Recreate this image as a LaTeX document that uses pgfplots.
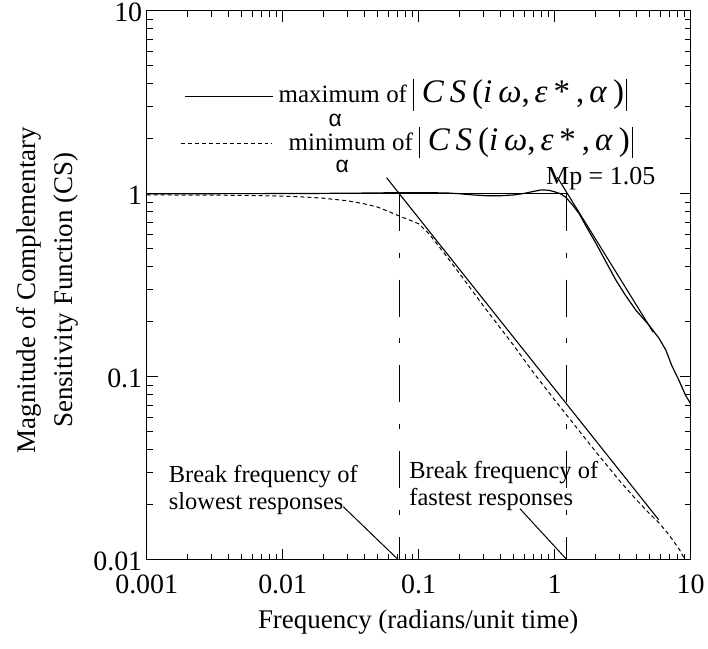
\documentclass[border=0pt]{standalone}
\usepackage{fontspec}
\setmainfont{Liberation Serif}
\newfontfamily\alphafont{Liberation Sans}
\newfontfamily\formfont{Liberation Serif}[LetterSpace=18]
\usepackage{pgfplots}
\usepackage{pgfplotstable}
\pgfplotsset{compat=1.18}

% max over alpha of |CS|
\pgfplotstableread{
x y
0.001 1.0
0.01 1.002
0.03 1.006
0.06 1.012
0.1 1.014
0.16 1.01
0.2 1.0
0.25 0.985
0.32 0.975
0.4 0.975
0.5 0.985
0.6 1.005
0.7 1.03
0.8 1.05
0.9 1.045
1.0 1.025
1.1 1.0
1.2 0.96
1.35 0.87
1.51 0.78
1.75 0.64
2.01 0.536
2.4 0.42
2.82 0.337
3.3 0.28
3.95 0.231
4.92 0.192
5.82 0.163
6.56 0.14
7.26 0.115
8.17 0.096
9.18 0.079
10 0.071
}\maxcs

% min over alpha of |CS|
\pgfplotstableread{
x y
0.001 0.985
0.003 0.983
0.006 0.978
0.01 0.97
0.015 0.958
0.02 0.945
0.03 0.915
0.04 0.88
0.05 0.845
0.06 0.80
0.072 0.755
0.085 0.72
0.1 0.685
0.12 0.60
0.15 0.485
0.2 0.366
0.3 0.243
0.5 0.148
0.7 0.105
1.0 0.0746
1.5 0.051
2.0 0.039
3.0 0.027
4.0 0.0212
5.0 0.0178
5.8 0.016
6.7 0.0141
7.5 0.0126
8.3 0.0113
9.0 0.0101
}\mincs

\newcommand\fs[1]{\fontsize{#1bp}{1.2\dimexpr #1bp\relax}\selectfont}
\newcommand\vbar{\rule[-8bp]{0.9bp}{32bp}}
\newcommand\csabs{{\formfont\fs{33}\vbar\hspace{8bp}\textit{CS}(\textit{iω},\hspace{5bp}\textit{ε}*,\hspace{5bp}\textit{α})\hspace{2bp}\vbar}}

\begin{document}
\begin{tikzpicture}
\begin{axis}[
  name=ax,
  scale only axis, width=545bp, height=550bp,
  xmode=log, ymode=log,
  xmin=0.001, xmax=10, ymin=0.01, ymax=10,
  log ticks with fixed point,
  /pgf/number format/assume math mode=true,
  xtick={0.001,0.01,0.1,1,10}, ytick={0.01,0.1,1,10},
  minor xtick={0.002,0.003,0.004,0.005,0.006,0.007,0.008,0.009,
    0.02,0.03,0.04,0.05,0.06,0.07,0.08,0.09,
    0.2,0.3,0.4,0.5,0.6,0.7,0.8,0.9,
    2,3,4,5,6,7,8,9},
  minor ytick={0.02,0.03,0.04,0.05,0.06,0.07,0.08,0.09,
    0.2,0.3,0.4,0.5,0.6,0.7,0.8,0.9,
    2,3,4,5,6,7,8,9},
  xtick pos=both, ytick pos=both, tick align=inside,
  major tick length=11bp, minor tick length=6bp,
  tick style={black, line width=0.9bp},
  axis line style={line width=1.4bp},
  tick label style={font=\fs{28}},
  xticklabel style={yshift=-12bp},
  yticklabel style={yshift=-2bp, xshift=-1bp},
  label style={font=\fontsize{27bp}{37bp}\selectfont, align=center},
  xlabel={Frequency (radians/unit time)},
  ylabel={Magnitude of Complementary\\Sensitivity Function (CS)},
  xlabel style={at={(axis description cs:0.499,-0.113)}, anchor=center},
  ylabel style={at={(axis description cs:-0.1826,0.491)}, anchor=center},
]
% curves
\addplot[black, line width=1.2bp] table[x=x, y=y] {\maxcs};
\addplot[black, line width=1.0bp, dash pattern=on 4bp off 3bp] table[x=x, y=y] {\mincs};
% asymptotes
\addplot[black, line width=1.1bp] coordinates {(0.001,1) (1.23,1)};
\addplot[black, line width=1.1bp] coordinates {(0.05803,1.224) (5.82,0.01652)};
\addplot[black, line width=1.1bp] coordinates {(1.044,1.232) (5.3,0.175)};
% break frequencies
\addplot[black, line width=1.1bp, dash pattern=on 37bp off 22bp on 5bp off 22bp] coordinates {(0.072,1) (0.072,0.01)};
\addplot[black, line width=1.1bp, dash pattern=on 37bp off 22bp on 5bp off 22bp] coordinates {(1.23,1) (1.23,0.01)};
\end{axis}

% annotations, in image pixel coordinates (origin top-left)
\begin{scope}[xshift=-147bp, yshift=560bp, x=1bp, y=-1bp]
\path (0,0) rectangle (708,649);
% legend
\draw[line width=1.2bp] (185,96) -- (274,96);
\node[anchor=base west, inner sep=0, font=\fs{25}] (m1) at (279,102) {maximum};
\node[anchor=base west, inner sep=0, font=\fs{25}] at ([xshift=6bp]m1.base east) {of\hspace{6bp}\csabs};
\node[anchor=base, inner sep=0, font=\fs{23}\alphafont] at ([xshift=6bp,yshift=-24bp]m1.base) {α};
\draw[line width=1.0bp, dash pattern=on 4bp off 3bp] (181,143) -- (273,143);
\node[anchor=base west, inner sep=0, font=\fs{25}] (m2) at (289,150) {minimum};
\node[anchor=base west, inner sep=0, font=\fs{25}] at ([xshift=6bp]m2.base east) {of\hspace{6bp}\csabs};
\node[anchor=base, inner sep=0, font=\fs{23}\alphafont] at ([xshift=5bp,yshift=-22bp]m2.base) {α};
% peak
\node[anchor=base west, inner sep=0, font=\fs{26}] at (547,184) {Mp = 1.05};
% break frequency notes
\node[anchor=base west, inner sep=0, font=\fs{24.5}] at (169,483) {Break frequency of};
\node[anchor=base west, inner sep=0, font=\fs{24.5}] at (169,510) {slowest responses};
\draw[line width=1bp] (344,507) -- (398,559);
\node[anchor=base west, inner sep=0, font=\fs{24.5}] at (410,479) {Break frequency of};
\node[anchor=base west, inner sep=0, font=\fs{24.5}] at (410,506) {fastest responses};
\draw[line width=1bp] (521,509) -- (567,559);
\end{scope}
\end{tikzpicture}
\end{document}
